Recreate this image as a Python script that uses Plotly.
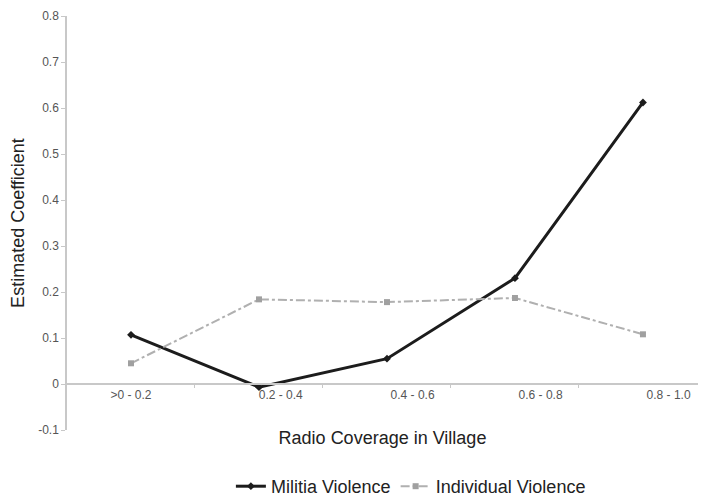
import plotly.graph_objects as go

categories = [">0 - 0.2", "0.2 - 0.4", "0.4 - 0.6", "0.6 - 0.8", "0.8 - 1.0"]
militia = [0.107, -0.007, 0.055, 0.230, 0.612]
individual = [0.045, 0.184, 0.178, 0.187, 0.108]
y_ticks = [-0.1, 0, 0.1, 0.2, 0.3, 0.4, 0.5, 0.6, 0.7, 0.8]

x = list(range(len(categories)))
label_shift = [0, 0.17, 0.2, 0.2, 0.2]
label_pos = [i + s for i, s in zip(x, label_shift)]

FONT = "Liberation Sans, Arial, sans-serif"

fig = go.Figure()
fig.add_trace(go.Scatter(
    x=x, y=militia, name="Militia Violence", mode="lines+markers",
    line=dict(color="#1c1c1c", width=3),
    marker=dict(symbol="diamond", size=6, color="#1c1c1c"),
))
fig.add_trace(go.Scatter(
    x=x, y=individual, name="Individual Violence", mode="lines+markers",
    line=dict(color="#b0b0b0", width=2, dash="dashdot"),
    marker=dict(symbol="square", size=6, color="#a0a0a0"),
))

fig.update_layout(
    width=690, height=497,
    margin=dict(l=59, r=0, t=8, b=67),
    paper_bgcolor="white", plot_bgcolor="white",
    font=dict(family=FONT, color="#222"),
    showlegend=True,
    legend=dict(orientation="h", x=0.545, xanchor="center", y=-0.137, yanchor="middle",
                font=dict(size=18, color="#222"), tracegroupgap=0),
    xaxis=dict(
        range=[-0.5, 4.43], tickvals=label_pos, ticktext=categories,
        ticks="", showgrid=False, zeroline=False,
        showline=True, linecolor="#c8c8c8", linewidth=1.5,
        anchor="free", position=1/9,
        tickfont=dict(size=12, color="#555555"),
        minor=dict(tickvals=[0.5, 1.5, 2.5, 3.5], ticks="outside", ticklen=3,
                   tickcolor="#c8c8c8", showgrid=False),
        title=dict(text="Radio Coverage in Village", font=dict(size=18, color="#222"), standoff=29),
        automargin=False,
    ),
    yaxis=dict(
        range=[-0.1, 0.8], tickvals=y_ticks, ticktext=[f"{v:g}" for v in y_ticks],
        showgrid=False, zeroline=False,
        showline=True, linecolor="#c8c8c8", linewidth=1.5,
        ticks="outside", ticklen=4, tickcolor="#c8c8c8",
        tickfont=dict(size=12, color="#555555"),
        title=dict(text="Estimated Coefficient", font=dict(size=18, color="#222"), standoff=19),
        automargin=False,
    ),
)

fig.write_html("out.html")
